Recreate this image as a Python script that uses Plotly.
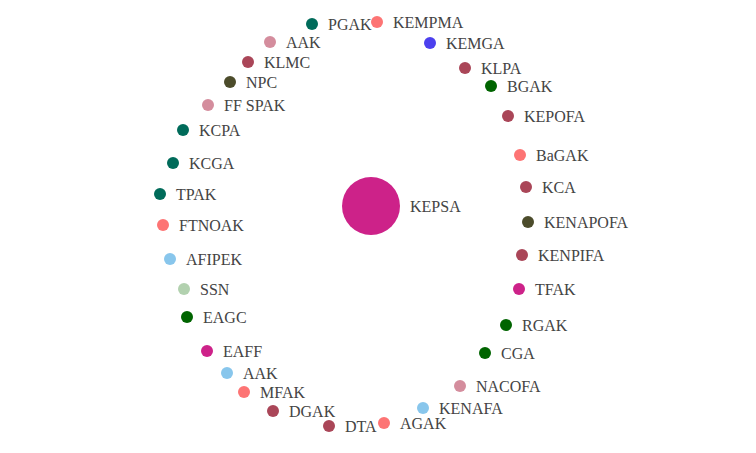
import plotly.graph_objects as go

# Node data (layout coordinates relative to the hub, y up)
nodes = ["KEPSA", "PGAK", "KEMPMA", "KEMGA", "KLPA", "BGAK", "KEPOFA", "BaGAK", "KCA",
         "KENAPOFA", "KENPIFA", "TFAK", "RGAK", "CGA", "NACOFA", "KENAFA", "AGAK", "DTA",
         "DGAK", "MFAK", "AAK", "EAFF", "EAGC", "SSN", "AFIPEK", "FTNOAK", "TPAK", "KCGA",
         "KCPA", "FF SPAK", "NPC", "KLMC", "AAK"]
node_x = [0, -59, 6, 59, 94, 120, 137, 149, 155, 157, 151, 148, 135, 114, 89, 52, 13, -42,
          -98, -127, -144, -164, -184, -187, -201, -208, -211, -198, -188, -163, -141, -123, -101]
node_y = [0, 182, 184, 163, 138, 120, 90, 51, 19, -16, -49, -83, -119, -147, -180, -202, -217, -220,
          -205, -186, -167, -145, -111, -83, -53, -19, 12, 43, 76, 101, 124, 144, 164]
node_group = ["hub", "teal", "salmon", "blue", "maroon", "green", "maroon", "salmon", "maroon",
              "olive", "maroon", "magenta", "green", "green", "pink", "lightblue", "salmon", "maroon",
              "maroon", "salmon", "lightblue", "magenta", "green", "lightgreen", "lightblue", "salmon",
              "teal", "teal", "teal", "pink", "olive", "maroon", "pink"]

palette = {
    "hub": "#cd2289", "teal": "#006b5a", "salmon": "#fd7474", "blue": "#4c40ee",
    "maroon": "#aa4658", "green": "#006400", "olive": "#4c4c2b", "magenta": "#cd2289",
    "pink": "#d48d9d", "lightblue": "#88c6ec", "lightgreen": "#b2d1af",
}
sizes = [58 if g == "hub" else 12 for g in node_group]
colors = [palette[g] for g in node_group]

fig = go.Figure()
fig.add_trace(go.Scatter(
    x=node_x, y=node_y, mode="markers",
    marker=dict(size=sizes, color=colors, opacity=1, line=dict(width=0)),
    hovertext=nodes, hoverinfo="text", showlegend=False,
))

for name, x, y, s in zip(nodes, node_x, node_y, sizes):
    fig.add_annotation(x=x, y=y, text=name, showarrow=False, xanchor="left",
                       yanchor="middle", xshift=s / 2 + 8,
                       font=dict(family="Liberation Serif", size=16, color="#444"))

fig.update_layout(
    width=748, height=445,
    margin=dict(l=0, r=0, t=0, b=0),
    paper_bgcolor="white", plot_bgcolor="white",
    xaxis=dict(range=[-363, 385], visible=False),
    yaxis=dict(range=[-247, 198], visible=False),
)

fig.write_html("out.html")
